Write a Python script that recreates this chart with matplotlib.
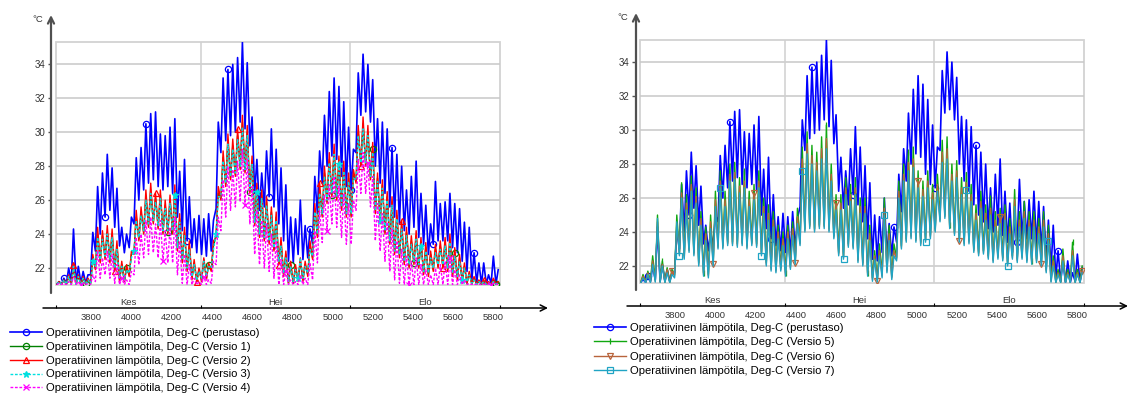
import matplotlib
matplotlib.use("Agg")
import matplotlib.pyplot as plt
import matplotlib.transforms as mtransforms

plt.rcParams['font.family'] = ['Liberation Sans', 'DejaVu Sans']

# tunnit vuoden alusta (kesäkuu - elokuu), päivittäiset maksimit ja minimit
START_HOUR = 3624
MONTH_EDGES = [3624, 4344, 5088, 5832]
MONTH_NAMES = ["Kes", "Hei", "Elo"]
X_TICKS = [3800, 4000, 4200, 4400, 4600, 4800, 5000, 5200, 5400, 5600, 5800]
Y_TICKS = [22, 24, 26, 28, 30, 32, 34]

base_max = [21.2, 21.4, 22.0, 24.3, 22.1, 21.8, 21.6, 24.1, 26.8, 27.6, 28.7, 27.9, 26.7, 24.4, 24.0,
            25.0, 28.5, 29.1, 30.5, 31.1, 31.2, 29.9, 29.8, 30.3, 30.8, 27.7, 28.4, 26.2, 24.9, 25.1,
            24.9, 25.2, 24.8, 30.6, 33.2, 33.7, 34.0, 34.4, 35.3, 34.1, 30.9, 28.4, 27.6, 28.9, 30.2, 29.0,
            27.9, 26.9, 25.0, 24.9, 26.0, 24.5, 24.3, 27.4, 28.9, 31.0, 32.4, 33.2, 32.7, 31.8, 30.3,
            29.0, 33.5, 34.6, 34.0, 33.1, 30.8, 30.6, 30.2, 29.1, 28.7, 28.0, 26.6, 27.4, 28.3, 26.4, 25.7,
            24.6, 27.1, 25.8, 25.9, 26.4, 25.8, 25.5, 24.7, 24.4, 22.9, 22.3, 22.3, 21.6, 22.7, 21.9]
base_min = [21.05, 21.05, 21.1, 21.2, 21.1, 21.1, 21.1, 21.6, 23.0, 24.0, 25.0, 25.4, 24.4, 23.3, 22.9,
            23.2, 24.6, 26.0, 26.6, 27.0, 27.2, 26.8, 26.6, 26.8, 26.4, 25.0, 24.2, 23.6, 23.2, 22.9,
            22.8, 22.7, 23.0, 25.5, 28.8, 29.5, 29.8, 30.0, 30.6, 30.2, 29.2, 26.4, 25.4, 25.6, 26.2, 25.6,
            24.6, 23.6, 22.4, 22.3, 22.8, 22.5, 22.6, 23.4, 25.2, 27.0, 28.0, 28.6, 28.4, 27.4, 26.8,
            26.6, 28.8, 31.0, 31.2, 30.6, 28.0, 27.0, 26.4, 25.6, 25.0, 24.6, 24.2, 24.0, 24.4, 23.8, 23.4,
            22.8, 23.4, 23.6, 23.6, 23.6, 23.2, 22.9, 22.4, 21.8, 21.3, 21.1, 21.05, 21.05, 21.1, 21.05]

v1_max = [21.2, 21.3, 21.5, 22.0, 21.5, 21.4, 21.3, 22.5, 24.0, 23.9, 24.1, 24.0, 23.3, 22.2, 22.0,
          22.8, 25.0, 25.3, 26.2, 26.6, 26.1, 26.3, 25.7, 26.0, 26.5, 24.9, 24.1, 23.3, 22.3, 21.9,
          22.5, 22.2, 23.3, 26.4, 28.5, 29.5, 29.2, 29.8, 30.6, 30.0, 28.3, 26.7, 26.3, 25.9, 25.3, 25.0,
          23.5, 22.8, 22.2, 22.0, 22.4, 22.2, 23.3, 25.5, 26.6, 27.6, 28.4, 28.9, 28.3, 27.9, 27.3,
          27.5, 30.0, 30.5, 30.0, 29.0, 27.3, 26.9, 26.2, 25.9, 25.1, 24.5, 24.1, 23.6, 23.9, 23.5, 23.2,
          22.8, 23.1, 23.3, 23.5, 23.7, 22.9, 22.6, 22.1, 21.7, 21.4, 21.2, 21.2, 21.1, 21.3, 21.1]
v1_min = [21.05, 21.05, 21.05, 21.05, 21.05, 21.05, 21.05, 21.1, 22.0, 22.4, 22.6, 22.4, 21.9, 21.3, 21.2,
          21.6, 22.9, 23.7, 24.1, 24.5, 24.7, 24.4, 24.1, 24.1, 24.1, 23.1, 22.4, 21.9, 21.4, 21.2,
          21.3, 21.4, 21.9, 23.9, 26.1, 26.9, 27.3, 27.5, 27.9, 27.7, 26.5, 24.6, 23.9, 23.7, 23.5, 23.1,
          22.3, 21.6, 21.1, 21.1, 21.3, 21.3, 21.6, 22.6, 23.9, 25.1, 25.9, 26.3, 26.1, 25.5, 25.1,
          25.1, 27.1, 28.1, 28.1, 27.3, 25.3, 24.7, 24.1, 23.5, 22.9, 22.7, 22.3, 22.1, 22.3, 22.1, 21.7,
          21.6, 21.9, 22.1, 22.1, 21.9, 21.6, 21.4, 21.2, 21.1, 21.05, 21.05, 21.05, 21.05, 21.05, 21.05]

v2_max = [21.2, 21.3, 21.6, 22.2, 21.6, 21.5, 21.4, 22.8, 24.4, 24.2, 24.5, 24.3, 23.6, 22.4, 22.2,
          23.0, 25.4, 25.6, 26.6, 27.0, 26.4, 26.6, 26.0, 26.3, 26.9, 25.2, 24.4, 23.6, 22.5, 22.0,
          22.6, 22.3, 23.6, 26.8, 28.9, 29.9, 29.6, 30.2, 31.0, 30.4, 28.6, 27.0, 26.6, 26.2, 25.6, 25.3,
          23.8, 23.0, 22.4, 22.2, 22.6, 22.4, 23.6, 25.8, 27.0, 28.0, 28.8, 29.3, 28.6, 28.3, 27.6,
          27.8, 30.4, 30.9, 30.4, 29.4, 27.6, 27.2, 26.5, 26.2, 25.4, 24.8, 24.4, 23.9, 24.2, 23.8, 23.5,
          23.0, 23.4, 23.6, 23.8, 24.0, 23.2, 22.8, 22.3, 21.8, 21.5, 21.3, 21.3, 21.2, 21.4, 21.2]
v2_min = [21.05, 21.05, 21.05, 21.05, 21.05, 21.05, 21.05, 21.1, 21.9, 22.3, 22.5, 22.3, 21.8, 21.2, 21.2,
          21.5, 22.8, 23.6, 24.0, 24.4, 24.6, 24.3, 24.0, 24.0, 24.0, 23.0, 22.3, 21.8, 21.3, 21.2,
          21.2, 21.3, 21.8, 23.8, 26.0, 26.8, 27.2, 27.4, 27.8, 27.6, 26.4, 24.5, 23.8, 23.6, 23.4, 23.0,
          22.2, 21.5, 21.1, 21.1, 21.2, 21.2, 21.5, 22.5, 23.8, 25.0, 25.8, 26.2, 26.0, 25.4, 25.0,
          25.0, 27.0, 28.0, 28.0, 27.2, 25.2, 24.6, 24.0, 23.4, 22.8, 22.6, 22.2, 22.0, 22.2, 22.0, 21.6,
          21.5, 21.8, 22.0, 22.0, 21.8, 21.5, 21.3, 21.2, 21.1, 21.05, 21.05, 21.05, 21.05, 21.05, 21.05]

v3_max = [21.2, 21.3, 21.5, 22.1, 21.5, 21.4, 21.3, 22.4, 23.8, 23.7, 24.0, 23.8, 23.1, 22.1, 21.9,
          22.6, 24.8, 25.1, 26.0, 26.4, 25.9, 26.1, 25.5, 25.8, 26.3, 24.7, 23.9, 23.1, 22.2, 21.8,
          22.4, 22.1, 23.1, 26.2, 28.3, 29.3, 29.0, 29.6, 30.3, 29.8, 28.1, 26.5, 26.1, 25.7, 25.1, 24.8,
          23.3, 22.6, 22.1, 21.9, 22.6, 22.1, 23.1, 25.3, 26.4, 27.4, 28.2, 28.7, 28.1, 27.7, 27.1,
          27.3, 29.8, 30.2, 29.8, 28.8, 27.1, 26.7, 26.0, 25.7, 24.9, 24.3, 23.9, 23.4, 23.7, 23.3, 23.0,
          22.6, 22.9, 23.1, 23.3, 23.5, 22.7, 22.4, 22.0, 21.6, 21.3, 21.2, 21.2, 21.1, 21.2, 21.1]
v3_min = [21.05, 21.05, 21.05, 21.05, 21.05, 21.05, 21.05, 21.1, 22.1, 22.5, 22.7, 22.5, 22.0, 21.4, 21.3,
          21.7, 23.0, 23.8, 24.2, 24.6, 24.8, 24.5, 24.2, 24.2, 24.2, 23.2, 22.5, 22.0, 21.5, 21.3,
          21.4, 21.5, 22.0, 24.0, 26.2, 27.0, 27.4, 27.6, 28.0, 27.8, 26.6, 24.7, 24.0, 23.8, 23.6, 23.2,
          22.4, 21.7, 21.2, 21.2, 21.4, 21.4, 21.7, 22.7, 24.0, 25.2, 26.0, 26.4, 26.2, 25.6, 25.2,
          25.2, 27.2, 28.2, 28.2, 27.4, 25.4, 24.8, 24.2, 23.6, 23.0, 22.8, 22.4, 22.2, 22.4, 22.2, 21.8,
          21.7, 22.0, 22.2, 22.2, 22.0, 21.7, 21.5, 21.3, 21.2, 21.1, 21.05, 21.05, 21.05, 21.05, 21.05]

v4_max = [21.1, 21.1, 21.2, 21.5, 21.2, 21.1, 21.1, 21.6, 23.0, 22.6, 23.0, 22.8, 22.2, 21.4, 21.3,
          21.8, 23.8, 24.0, 24.8, 25.0, 24.6, 24.8, 24.2, 24.4, 25.0, 23.6, 22.8, 22.2, 21.4, 21.2,
          21.5, 21.3, 22.4, 25.0, 27.2, 28.0, 27.8, 28.3, 29.0, 28.4, 26.8, 25.4, 24.8, 24.6, 24.0, 23.6,
          22.5, 21.8, 21.3, 21.2, 21.6, 21.4, 22.3, 24.2, 25.4, 26.3, 26.9, 27.4, 26.8, 26.4, 25.8,
          26.0, 28.4, 28.8, 28.2, 27.4, 25.8, 25.2, 24.7, 24.3, 23.6, 23.1, 22.7, 22.4, 22.6, 22.2, 21.9,
          21.6, 22.0, 22.2, 22.4, 22.6, 21.9, 21.6, 21.3, 21.1, 21.05, 21.05, 21.05, 21.05, 21.1, 21.05]
v4_min = [21.02, 21.02, 21.02, 21.02, 21.02, 21.02, 21.02, 21.02, 21.2, 21.4, 21.6, 21.4, 21.1, 21.02, 21.02,
          21.02, 21.6, 22.2, 22.6, 22.8, 22.9, 22.6, 22.4, 22.3, 22.3, 21.6, 21.1, 21.02, 21.02, 21.02,
          21.02, 21.02, 21.1, 22.2, 24.2, 25.0, 25.4, 25.6, 25.9, 25.7, 24.6, 22.8, 22.2, 22.0, 21.8, 21.4,
          21.02, 21.02, 21.02, 21.02, 21.02, 21.02, 21.02, 21.3, 22.3, 23.5, 24.2, 24.6, 24.4, 23.8, 23.4,
          23.4, 25.4, 26.4, 26.4, 25.6, 23.6, 23.0, 22.4, 21.8, 21.3, 21.1, 21.02, 21.02, 21.02, 21.02, 21.02,
          21.02, 21.02, 21.02, 21.02, 21.02, 21.02, 21.02, 21.02, 21.02, 21.02, 21.02, 21.02, 21.02, 21.02, 21.02]

v5_max = [21.5, 21.7, 22.6, 25.0, 22.3, 21.9, 21.8, 25.0, 26.9, 26.2, 27.3, 26.6, 25.2, 24.3, 25.0,
          26.4, 27.6, 26.4, 28.0, 28.1, 27.2, 27.6, 26.4, 26.8, 27.6, 26.0, 25.6, 25.2, 24.4, 24.0,
          24.4, 24.6, 25.4, 29.0, 29.9, 29.1, 28.7, 29.6, 30.3, 28.0, 26.2, 26.2, 27.2, 26.8, 27.2, 26.0,
          26.0, 24.4, 22.9, 23.3, 26.0, 24.4, 23.3, 27.0, 28.0, 28.7, 29.0, 27.6, 27.0, 27.6, 26.8,
          27.4, 29.4, 29.6, 28.0, 28.2, 27.2, 27.5, 26.8, 25.6, 26.4, 25.6, 26.0, 25.2, 25.4, 25.6, 24.8,
          26.5, 25.2, 25.8, 25.2, 25.2, 24.8, 25.2, 24.4, 22.6, 21.8, 23.0, 21.8, 23.4, 21.8, 22.0]
v5_min = [21.05, 21.05, 21.1, 21.2, 21.1, 21.05, 21.05, 21.5, 22.8, 22.6, 23.0, 22.8, 22.2, 21.6, 21.5,
          22.2, 23.2, 23.2, 23.4, 23.4, 23.3, 23.4, 23.2, 23.4, 23.3, 22.8, 22.2, 21.9, 21.8, 21.9,
          21.6, 22.0, 22.3, 23.4, 24.2, 24.4, 24.2, 24.4, 24.4, 24.2, 23.8, 22.8, 22.6, 23.3, 23.2, 22.4,
          22.2, 21.6, 21.3, 21.2, 21.5, 21.8, 21.4, 22.5, 23.2, 23.6, 23.8, 23.6, 23.4, 23.6, 23.8,
          24.2, 24.8, 25.0, 24.4, 24.0, 23.6, 23.4, 23.5, 23.0, 22.8, 22.9, 22.6, 22.4, 22.6, 22.5, 22.2,
          22.6, 22.4, 22.6, 22.4, 22.3, 22.4, 22.2, 21.8, 21.2, 21.05, 21.05, 21.05, 21.05, 21.05, 21.05]

v6_max = [21.4, 21.6, 22.3, 24.6, 22.1, 21.8, 21.7, 24.5, 26.3, 25.7, 26.8, 26.1, 24.8, 23.9, 24.6,
          25.9, 27.0, 25.9, 27.4, 27.5, 26.7, 27.0, 25.9, 26.3, 27.0, 25.5, 25.1, 24.7, 24.0, 23.6,
          24.0, 24.2, 24.9, 28.3, 29.2, 28.5, 28.1, 28.9, 29.5, 27.4, 25.7, 25.7, 26.6, 26.2, 26.6, 25.5,
          25.5, 23.9, 22.6, 22.9, 25.4, 23.9, 22.9, 26.4, 27.4, 28.1, 28.3, 27.0, 26.5, 27.0, 26.3,
          26.8, 28.7, 28.9, 27.4, 27.6, 26.6, 26.9, 26.2, 25.1, 25.8, 25.1, 25.4, 24.7, 24.9, 25.1, 24.3,
          25.9, 24.7, 25.2, 24.7, 24.7, 24.3, 24.7, 23.9, 22.3, 21.6, 22.6, 21.6, 22.9, 21.6, 21.7]
v6_min = [21.05, 21.05, 21.05, 21.1, 21.05, 21.05, 21.05, 21.4, 22.7, 22.5, 22.9, 22.7, 22.1, 21.5, 21.4,
          22.1, 23.1, 23.1, 23.3, 23.3, 23.2, 23.3, 23.1, 23.3, 23.2, 22.7, 22.1, 21.8, 21.7, 21.8,
          21.5, 21.9, 22.2, 23.3, 24.1, 24.3, 24.1, 24.3, 24.3, 24.1, 23.7, 22.7, 22.5, 23.2, 23.1, 22.3,
          22.1, 21.5, 21.2, 21.1, 21.4, 21.7, 21.3, 22.4, 23.1, 23.5, 23.7, 23.5, 23.3, 23.5, 23.7,
          24.1, 24.7, 24.9, 24.3, 23.9, 23.5, 23.3, 23.4, 22.9, 22.7, 22.8, 22.5, 22.3, 22.5, 22.4, 22.1,
          22.5, 22.3, 22.5, 22.3, 22.2, 22.3, 22.1, 21.7, 21.1, 21.05, 21.05, 21.05, 21.05, 21.05, 21.05]

v7_max = [21.3, 21.5, 22.1, 24.8, 22.0, 21.6, 21.5, 24.6, 26.0, 25.3, 26.4, 25.7, 24.4, 23.5, 24.2,
          25.5, 26.6, 25.5, 27.0, 27.1, 26.3, 26.6, 25.5, 25.9, 26.6, 25.1, 24.7, 24.3, 23.6, 23.2,
          23.6, 23.8, 24.5, 27.6, 28.6, 28.0, 27.6, 28.3, 28.9, 27.0, 25.3, 25.3, 26.2, 25.8, 26.2, 25.1,
          25.1, 23.5, 22.4, 22.6, 25.0, 23.5, 22.6, 26.0, 27.0, 27.6, 27.8, 26.6, 26.1, 26.6, 25.9,
          26.4, 28.1, 28.3, 27.0, 27.2, 26.2, 26.5, 25.8, 24.7, 25.4, 24.7, 25.0, 24.3, 24.5, 24.7, 23.9,
          25.5, 24.3, 24.8, 24.3, 24.3, 23.9, 24.3, 23.5, 22.0, 21.5, 22.3, 21.5, 22.6, 21.5, 21.6]
v7_min = [21.02, 21.02, 21.02, 21.05, 21.02, 21.02, 21.02, 21.3, 22.6, 22.4, 22.8, 22.6, 22.0, 21.4, 21.3,
          22.0, 23.0, 23.0, 23.2, 23.2, 23.1, 23.2, 23.0, 23.2, 23.1, 22.6, 22.0, 21.7, 21.6, 21.7,
          21.4, 21.8, 22.1, 23.2, 24.0, 24.2, 24.0, 24.2, 24.2, 24.0, 23.6, 22.6, 22.4, 23.1, 23.0, 22.2,
          22.0, 21.4, 21.1, 21.05, 21.3, 21.6, 21.2, 22.3, 23.0, 23.4, 23.6, 23.4, 23.2, 23.4, 23.6,
          24.0, 24.6, 24.8, 24.2, 23.8, 23.4, 23.2, 23.3, 22.8, 22.6, 22.7, 22.4, 22.2, 22.4, 22.3, 22.0,
          22.4, 22.2, 22.4, 22.2, 22.1, 22.2, 22.0, 21.6, 21.05, 21.02, 21.02, 21.02, 21.02, 21.02, 21.02]

label_base = "Operatiivinen lämpötila, Deg-C (perustaso)"


def zigzag(mins, maxs):
    # yksi minimi aamulla ja yksi maksimi iltapäivällä joka päivälle
    xs, ys = [], []
    for d in range(len(maxs)):
        xs += [START_HOUR + 24 * d + 4, START_HOUR + 24 * d + 15]
        ys += [mins[d], maxs[d]]
    return xs, ys


W, H = 1130, 395
fig = plt.figure(figsize=(W / 100, H / 100), dpi=100)


def px(x0, y_top, x1, y_bot):
    return [x0 / W, 1 - y_bot / H, (x1 - x0) / W, (y_bot - y_top) / H]


def setup(ax, yline, xline_from, xline_to, xline_y, clabel_xy):
    ax.set_xlim(MONTH_EDGES[0], MONTH_EDGES[-1])
    ax.set_ylim(21.0, 35.3)
    for s in ["top", "right", "left", "bottom"]:
        ax.spines[s].set_visible(False)
    ax.spines["left"].set_position(("outward", 3.4))
    ax.spines["bottom"].set_position(("outward", 16.6))
    ax.add_patch(plt.Rectangle((0, 0), 1, 1, transform=ax.transAxes, fill=False,
                               ec="#d2d2d2", lw=1.3, clip_on=False, zorder=0.5))
    for yv in Y_TICKS:
        ax.axhline(yv, color="#c8c8c8", lw=1.1, zorder=0.6)
    for xv in MONTH_EDGES[1:-1]:
        ax.axvline(xv, color="#d0d0d0", lw=1.1, zorder=0.6)
    ax.set_yticks(Y_TICKS)
    ax.set_yticklabels([str(v) for v in Y_TICKS])
    ax.tick_params(axis="y", length=2.5, width=1, color="#555555", pad=2,
                   labelsize=7, labelcolor="#333333")
    ax.set_xticks(X_TICKS)
    ax.set_xticklabels([str(v) for v in X_TICKS])
    ax.set_xticks(MONTH_EDGES, minor=True)
    ax.tick_params(axis="x", which="major", length=0, pad=3.5, labelsize=6.8,
                   labelcolor="#333333")
    ax.tick_params(axis="x", which="minor", direction="in", length=2.5, width=0.8,
                   color="black")
    trans = mtransforms.blended_transform_factory(ax.transData, ax.transAxes)
    for i, name in enumerate(MONTH_NAMES):
        xc = (MONTH_EDGES[i] + MONTH_EDGES[i + 1]) / 2
        ax.text(xc, -0.071, name, transform=trans, ha="center", va="center",
                fontsize=6.8, color="#333333")
    # akselit nuolilla
    ax.annotate("", xy=(yline[0], H - yline[2]), xytext=(yline[0], H - yline[1]),
                xycoords="figure pixels", textcoords="figure pixels",
                arrowprops=dict(arrowstyle="->", lw=1.6, color="#505050",
                                shrinkA=0, shrinkB=0, mutation_scale=11),
                annotation_clip=False)
    ax.annotate("", xy=(xline_to, H - xline_y), xytext=(xline_from, H - xline_y),
                xycoords="figure pixels", textcoords="figure pixels",
                arrowprops=dict(arrowstyle="->", lw=1.1, color="black",
                                shrinkA=0, shrinkB=0, mutation_scale=11),
                annotation_clip=False)
    fig.text(clabel_xy[0] / W, 1 - clabel_xy[1] / H, "°C", fontsize=6.8,
             color="#333333", ha="center", va="center")


# vasen kuva
ax1 = fig.add_axes(px(56, 42.3, 500, 285))
setup(ax1, (51, 293, 15), 43, 548, 308, (38, 20))
left_series = [
    (base_min, base_max, label_base, "#0000ff", "-", "o", 3, 1.2, {}),
    (v1_min, v1_max, "Operatiivinen lämpötila, Deg-C (Versio 1)", "#008000", "-", "o", 12, 1.0, {}),
    (v2_min, v2_max, "Operatiivinen lämpötila, Deg-C (Versio 2)", "#ff0000", "-", "^", 7, 1.0, {}),
    (v3_min, v3_max, "Operatiivinen lämpötila, Deg-C (Versio 3)", "#00e0e0", (0, (2, 1.2)), "*", 15, 1.0,
     {"markerfacecolor": "#00e0e0"}),
    (v4_min, v4_max, "Operatiivinen lämpötila, Deg-C (Versio 4)", "#ff00ff", (0, (2, 1.2)), "x", 10, 1.0, {}),
]
handles = []
for mn, mx, lab, col, ls, mk, start, lw, extra in left_series:
    xs, ys = zigzag(mn, mx)
    kw = dict(markerfacecolor="none")
    kw.update(extra)
    ln, = ax1.plot(xs, ys, color=col, ls=ls, lw=lw, marker=mk, markersize=4.5,
                   markevery=(start, 17), markeredgewidth=0.9, label=lab, **kw)
    handles.append(ln)
fig.legend(handles=handles, loc="upper left", bbox_to_anchor=(10 / W, 1 - 328 / H),
           frameon=False, fontsize=8.1, handlelength=2.85, handletextpad=0.35,
           labelspacing=0.34, borderpad=0, borderaxespad=0, numpoints=1)

# oikea kuva
ax2 = fig.add_axes(px(640, 40, 1084, 283))
setup(ax2, (636, 290, 13), 627, 1128, 306, (623, 18))
right_series = [
    (base_min, base_max, label_base, "#0000ff", "-", "o", 3, 1.2),
    (v5_min, v5_max, "Operatiivinen lämpötila, Deg-C (Versio 5)", "#10a810", "-", r"$\mathrm{I}$", 9, 1.0),
    (v6_min, v6_max, "Operatiivinen lämpötila, Deg-C (Versio 6)", "#b8643c", "-", "v", 13, 1.0),
    (v7_min, v7_max, "Operatiivinen lämpötila, Deg-C (Versio 7)", "#20a4c4", "-", "s", 16, 1.0),
]
handles = []
for mn, mx, lab, col, ls, mk, start, lw in right_series:
    xs, ys = zigzag(mn, mx)
    ln, = ax2.plot(xs, ys, color=col, ls=ls, lw=lw, marker=mk, markersize=4.5,
                   markevery=(start, 17), markeredgewidth=0.9, markerfacecolor="none",
                   label=lab)
    handles.append(ln)
fig.legend(handles=handles, loc="upper left", bbox_to_anchor=(594 / W, 1 - 323 / H),
           frameon=False, fontsize=8.1, handlelength=2.85, handletextpad=0.35,
           labelspacing=0.38, borderpad=0, borderaxespad=0, numpoints=1)

fig.savefig("out.png", dpi=100)
